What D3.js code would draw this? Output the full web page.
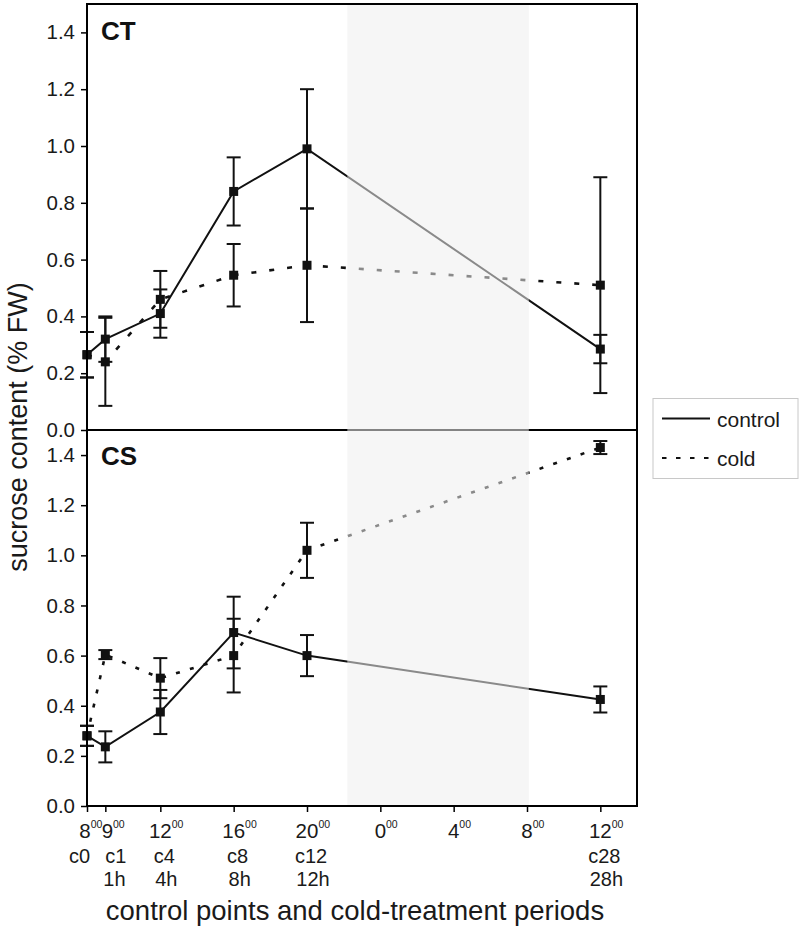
<!DOCTYPE html>
<html>
<head>
<meta charset="utf-8">
<script src="https://cdn.jsdelivr.net/npm/d3@7"></script>
<style>
  body { margin: 0; background: #fff; }
  svg { display: block; font-family: "Liberation Sans", Arial, Helvetica, sans-serif; }
</style>
</head>
<body>
<svg id="chart" width="799" height="930"></svg>
<script>
// ---- data ----
const hours = [0, 1, 4, 8, 12, 28];            // hours after 8:00
const ctControl    = [0.265, 0.32, 0.41, 0.84, 0.99, 0.285];
const ctControlErr = [0.08, 0.08, 0.085, 0.12, 0.21, 0.05];
const ctCold       = [0.265, 0.24, 0.46, 0.545, 0.58, 0.51];
const ctColdErr    = [0.08, 0.155, 0.10, 0.11, 0.20, 0.38];
const csControl    = [0.28, 0.236, 0.375, 0.692, 0.60, 0.425];
const csControlErr = [0.04, 0.062, 0.088, 0.143, 0.082, 0.052];
const csCold       = [0.28, 0.604, 0.51, 0.60, 1.02, 1.43];
const csColdErr    = [0.04, 0.018, 0.08, 0.147, 0.11, 0.026];

const xTickHours  = [0, 1, 4, 8, 12, 16, 20, 24, 28];
const xTickClock  = ["8", "9", "12", "16", "20", "0", "4", "8", "12"];
const sampleLabels   = ["c0", "c1", "c4", "c8", "c12", "c28"];
const durationLabels = ["", "1h", "4h", "8h", "12h", "28h"];
const yTicks = [0, 0.2, 0.4, 0.6, 0.8, 1.0, 1.2, 1.4];
const shadedHours = [14.2, 24.1];
const panelNames = ["CT", "CS"];
const seriesNames = ["control", "cold"];

// ---- layout ----
const svg = d3.select("#chart");
const pLeft = 87, pRight = 637, pTop = 4, pMid = 430, pBottom = 806;
const x = d3.scaleLinear().domain([0, 30]).range([pLeft, pRight]);
const yTop = d3.scaleLinear().domain([0, 1.5]).range([pMid, pTop]);
const yBot = d3.scaleLinear().domain([0, 1.5]).range([pBottom, pMid]);
const ink = "#1a1a1a";

const panels = [
  { name: panelNames[0], y: yTop, control: ctControl, controlErr: ctControlErr, cold: ctCold, coldErr: ctColdErr, dash: "5,13", labelY: 40 },
  { name: panelNames[1], y: yBot, control: csControl, controlErr: csControlErr, cold: csCold, coldErr: csColdErr, dash: "4,10.5", labelY: 465 }
];

// y axes
panels.forEach(p => {
  const ax = svg.append("g").attr("transform", `translate(${pLeft},0)`)
    .call(d3.axisLeft(p.y).tickValues(yTicks).tickSize(6).tickPadding(6).tickFormat(d3.format(".1f")));
  ax.attr("font-family", null).attr("font-size", null);
  ax.select(".domain").remove();
  ax.selectAll(".tick line").attr("stroke", "#000").attr("stroke-width", 1.5);
  ax.selectAll(".tick text").attr("font-size", 20.5).attr("fill", ink);
});

// x axis ticks
const xa = svg.append("g").attr("transform", `translate(0,${pBottom})`)
  .call(d3.axisBottom(x).tickValues(xTickHours).tickSize(6).tickFormat(""));
xa.select(".domain").remove();
xa.selectAll(".tick line").attr("stroke", "#000").attr("stroke-width", 1.5);

// x labels row 1: clock with superscript 00
xTickHours.forEach((h, i) => {
  const t = svg.append("text").attr("y", 838).attr("font-size", 20.5).attr("fill", ink);
  const base = t.append("tspan").attr("fill", ink).text(xTickClock[i]);
  t.append("tspan").attr("font-size", 10.5).attr("dy", -10.5).attr("fill", ink).text("00");
  const w = base.node().getComputedTextLength();
  const shift = i === 0 ? -2 : (i === 1 ? 2 : 0);
  t.attr("x", x(h) - w / 2 + shift);
});
// rows 2 and 3
hours.forEach((h, i) => {
  const anchor = i === 0 ? "end" : (i === 1 ? "start" : "middle");
  const dx = i === 0 ? 3 : (i === 1 ? 0 : 4);
  svg.append("text").attr("x", x(h) + dx).attr("y", 863).attr("text-anchor", anchor)
    .attr("font-size", 20).attr("fill", ink).text(sampleLabels[i]);
  if (durationLabels[i]) {
    svg.append("text").attr("x", x(h) + (i === 1 ? -2 : dx + 2)).attr("y", 886).attr("text-anchor", anchor)
      .attr("font-size", 20).attr("fill", ink).text(durationLabels[i]);
  }
});

// axis titles
svg.append("text").attr("x", 355).attr("y", 920).attr("text-anchor", "middle")
  .attr("font-size", 27.5).attr("fill", ink).text("control points and cold-treatment periods");
svg.append("text").attr("transform", "translate(27,427) rotate(-90)").attr("text-anchor", "middle")
  .attr("font-size", 27).attr("fill", ink).text("sucrose content (% FW)");

// series
panels.forEach(p => {
  const g = svg.append("g");
  const line = d3.line().x((d, i) => x(hours[i])).y(d => p.y(d));
  g.append("path").datum(p.cold).attr("d", line).attr("fill", "none")
    .attr("stroke", "#111").attr("stroke-width", 2.6).attr("stroke-dasharray", p.dash);
  g.append("path").datum(p.control).attr("d", line).attr("fill", "none")
    .attr("stroke", "#111").attr("stroke-width", 2);
  [[p.control, p.controlErr], [p.cold, p.coldErr]].forEach(([vals, errs]) => {
    vals.forEach((v, i) => {
      const cx = x(hours[i]);
      const y1 = p.y(v + errs[i]), y2 = p.y(v - errs[i]);
      g.append("line").attr("x1", cx).attr("x2", cx).attr("y1", y1).attr("y2", y2)
        .attr("stroke", "#111").attr("stroke-width", 2);
      [y1, y2].forEach(yy => g.append("line").attr("x1", cx - 7).attr("x2", cx + 7)
        .attr("y1", yy).attr("y2", yy).attr("stroke", "#111").attr("stroke-width", 2));
    });
    g.selectAll(null).data(vals).enter().append("rect")
      .attr("x", (d, i) => x(hours[i]) - 4.5).attr("y", d => p.y(d) - 4.5)
      .attr("width", 9).attr("height", 9).attr("fill", "#111");
  });
  svg.append("text").attr("x", 101).attr("y", p.labelY).attr("font-size", 26)
    .attr("font-weight", "bold").attr("fill", "#111").text(p.name);
});

// frames
const frame = svg.append("g").attr("stroke", "#000").attr("stroke-width", 2).attr("fill", "none");
frame.append("line").attr("x1", pLeft).attr("x2", pLeft).attr("y1", pTop - 1).attr("y2", pBottom + 1);
frame.append("line").attr("x1", pRight).attr("x2", pRight).attr("y1", pTop - 1).attr("y2", pBottom + 1);
frame.append("line").attr("x1", pLeft).attr("x2", pRight).attr("y1", pTop).attr("y2", pTop);
frame.append("line").attr("x1", pLeft).attr("x2", pRight).attr("y1", pMid).attr("y2", pMid);
frame.append("line").attr("x1", pLeft).attr("x2", pRight).attr("y1", pBottom).attr("y2", pBottom);

// night shading overlay
svg.append("rect").attr("x", x(shadedHours[0])).attr("width", x(shadedHours[1]) - x(shadedHours[0]))
  .attr("y", pTop + 1).attr("height", pBottom - pTop - 2)
  .attr("fill", "#eeeeee").attr("fill-opacity", 0.55);

// legend
const lg = svg.append("g");
lg.append("rect").attr("x", 653).attr("y", 398.5).attr("width", 145).attr("height", 80)
  .attr("fill", "#fff").attr("stroke", "#c8c8c8").attr("stroke-width", 1);
const legendDash = [null, "4.5,9.5"];
seriesNames.forEach((s, i) => {
  const yy = 418.5 + i * 39.5;
  lg.append("line").attr("x1", 662).attr("x2", 710).attr("y1", yy).attr("y2", yy)
    .attr("stroke", "#111").attr("stroke-width", 2).attr("stroke-dasharray", legendDash[i]);
  lg.append("text").attr("x", 717).attr("y", yy + 8).attr("font-size", 21).attr("fill", ink).text(s);
});
</script>
</body>
</html>
